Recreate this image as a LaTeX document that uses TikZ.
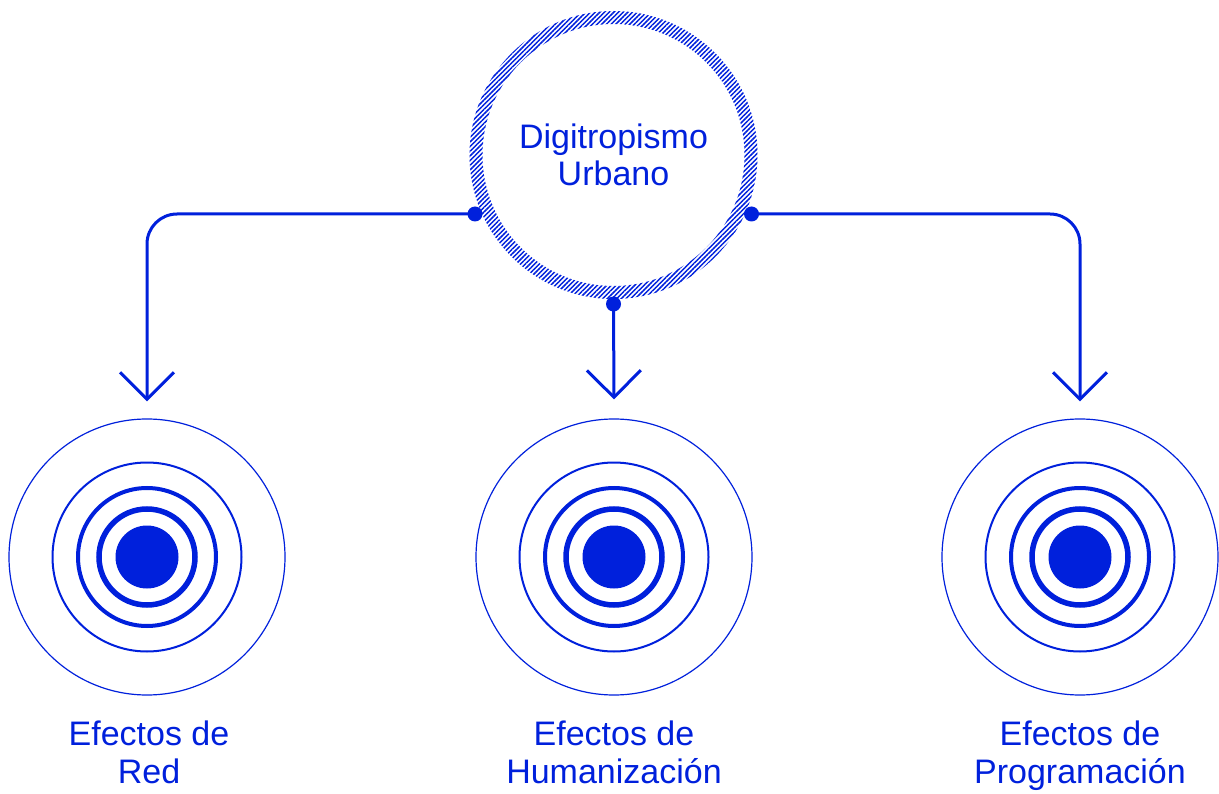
\documentclass[tikz,border=0pt]{standalone}
\usepackage{fontspec}
\setmainfont{Liberation Sans}
\usetikzlibrary{arrows.meta,patterns.meta,calc}
\definecolor{ink}{RGB}{0,32,220}
\begin{document}
\begin{tikzpicture}[x=1pt,y=-1pt,
  hubtxt/.style={text=ink, align=center, font=\fontsize{34}{37}\selectfont},
  txt/.style={text=ink, align=center, inner sep=0pt, anchor=north,
    font=\fontsize{34}{38.5}\selectfont},
  hubnode/.style={circle, minimum size=288pt, inner sep=0pt},
  target/.style={circle, draw=ink, line width=1.2pt, minimum size=276pt, inner sep=0pt},
  conn/.style={draw=ink, line width=3pt, rounded corners=30pt,
    -{Straight Barb[length=27pt,width=54pt]}},
  dot/.style={fill=ink}]
\useasboundingbox (0,0) rectangle (1219,794);

% central hub with a hatched ring
\node[hubnode, hubtxt] (hub) at (613.5,155) {Digitropismo\\Urbano};
\fill[pattern={Lines[angle=45,distance=3.3pt,line width=1.5pt]}, pattern color=ink,
  even odd rule] (hub.center) circle[radius=144] (hub.center) circle[radius=131];

% three concentric targets
\node[target] (red)  at (147,557)  {};
\node[target] (hum)  at (614,557)  {};
\node[target] (prog) at (1080,557) {};
\foreach \t in {red,hum,prog}{
  \draw[ink, line width=2pt]   (\t.center) circle[radius=94.5];
  \draw[ink, line width=4pt]   (\t.center) circle[radius=69];
  \draw[ink, line width=5.5pt] (\t.center) circle[radius=48];
  \fill[ink] (\t.center) circle[radius=31.5];
}

% captions
\node[txt] (redL)  at (149,720.5)  {Efectos de\\Red};
\node[txt] (humL)  at (614,720.5)  {Efectos de\\Humanización};
\node[txt] (progL) at (1080,720.5) {Efectos de\\Programación};

% connector ends
\coordinate (hL) at ($(hub.center)+(-138.5,59)$);
\coordinate (hR) at ($(hub.center)+(138,59)$);
\coordinate (hB) at ($(hub.center)+(0,149)$);
\coordinate (tL) at ($(red.north)+(0,-17)$);
\coordinate (tM) at ($(hum.north)+(0,-19)$);
\coordinate (tR) at ($(prog.north)+(0,-17)$);

\draw[conn] (hL) -| (tL);
\draw[conn] (hR) -| (tR);
\draw[conn] (hB) -- (tM);
\foreach \p in {hL,hR,hB}{ \fill[dot] (\p) circle[radius=7.5]; }
\end{tikzpicture}
\end{document}
